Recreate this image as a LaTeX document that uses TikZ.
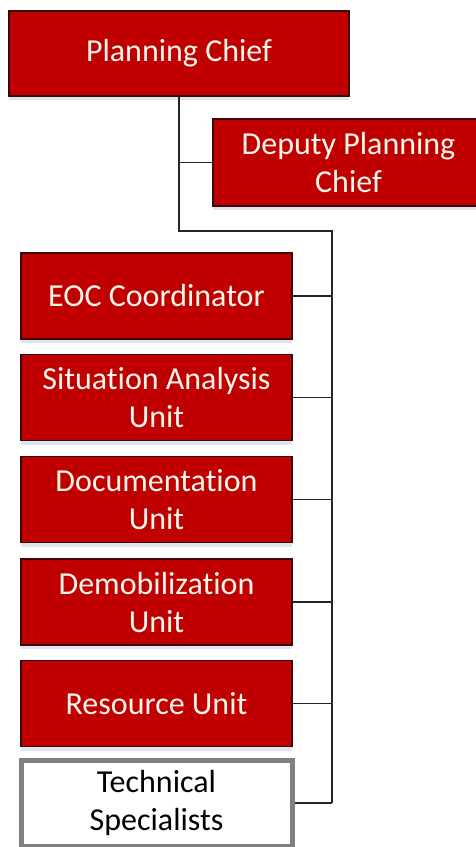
\documentclass[tikz,border=0pt]{standalone}
\usepackage{fontspec}
\setmainfont{Carlito}[Ligatures={NoCommon}]
\usetikzlibrary{shadows}
\definecolor{boxred}{HTML}{C00000}
\definecolor{boxedge}{HTML}{3A0A0A}
\definecolor{textcream}{HTML}{FFF6EC}
\definecolor{specgray}{HTML}{808080}
\definecolor{shadowtint}{HTML}{C9D3E6}
\begin{document}
\begin{tikzpicture}[x=1pt,y=-1pt,
  redbox/.style={draw=boxedge, line width=1.2pt, fill=boxred, text=textcream,
    minimum width=271pt, minimum height=86pt, inner sep=0pt, align=center,
    font=\fontsize{32}{38}\selectfont,
    drop shadow={shadow xshift=0pt, shadow yshift=-4pt, fill=shadowtint, opacity=0.6}},
  specbox/.style={draw=specgray, line width=5pt, fill=white, text=black,
    minimum width=271pt, minimum height=86pt, inner sep=0pt, align=center,
    font=\fontsize{32}{38}\selectfont,
    drop shadow={shadow xshift=0pt, shadow yshift=-4pt, fill=shadowtint, opacity=0.6}},
  link/.style={draw=black!85, line width=1.2pt}]
\useasboundingbox (0,0) rectangle (476,847);

% org chart boxes
\node[redbox, minimum width=340pt, minimum height=85pt] (chief) at (179,53.5) {Planning Chief};
\node[redbox, minimum height=87pt] (deputy) at (348.5,162.5) {Deputy Planning\\Chief};
\node[redbox] (eoc) at (156.5,296) {EOC Coordinator};
\node[redbox] (sit) at (156.5,397.5) {Situation Analysis\\Unit};
\node[redbox] (doc) at (156.5,499.5) {Documentation\\Unit};
\node[redbox] (demob) at (156.5,602) {Demobilization\\Unit};
\node[redbox] (res) at (156.5,703.5) {Resource Unit};
\node[specbox] (tech) at (156.5,803) {Technical\\Specialists};

% connector spine
\coordinate (drop) at (179,231);
\coordinate (spinetop) at (332,231);
\coordinate (spinebot) at (332,803);
\draw[link] (chief.south) -- (drop) -- (spinetop) -- (spinebot);
\draw[link] (chief.south |- deputy.west) -- (deputy.west);

% branches to each unit
\foreach \n in {eoc,sit,doc,demob,res,tech}
  \draw[link] (spinetop |- \n.east) -- (\n.east);
\end{tikzpicture}
\end{document}
